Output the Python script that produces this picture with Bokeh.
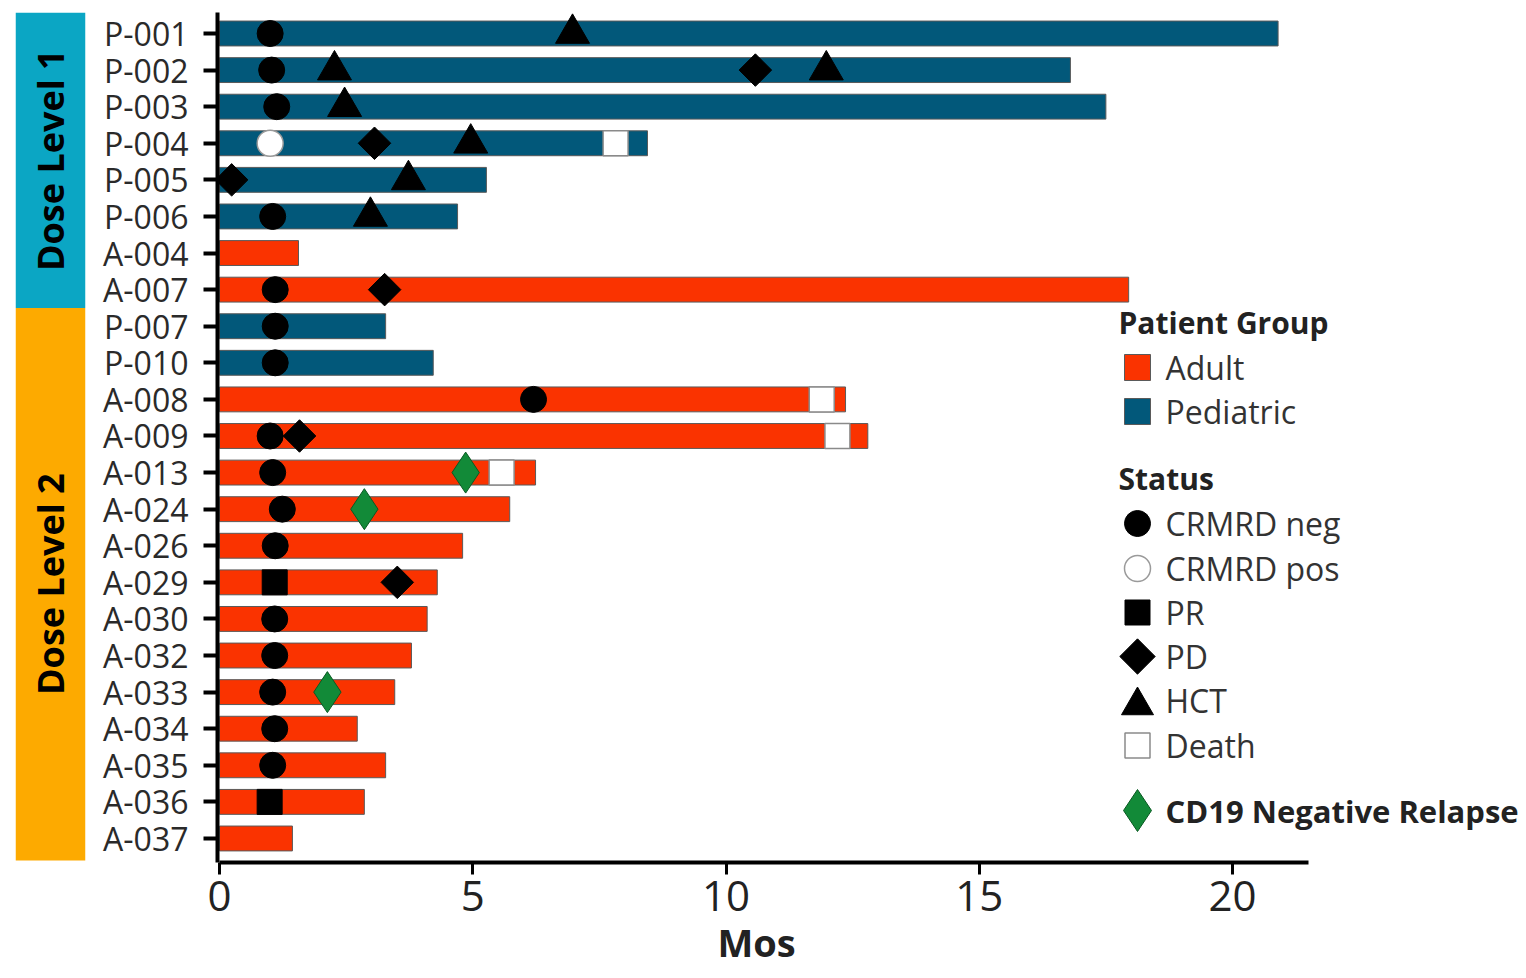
import numpy as np
from bokeh.plotting import figure
from bokeh.models import Range1d, FixedTicker, ColumnDataSource, Title
from bokeh.layouts import row
from bokeh.embed import file_html
from bokeh.resources import INLINE
from bokeh.core.properties import value

# ---------------- data ----------------
patients = ["P-001", "P-002", "P-003", "P-004", "P-005", "P-006", "A-004", "A-007",
            "P-007", "P-010", "A-008", "A-009", "A-013", "A-024", "A-026", "A-029",
            "A-030", "A-032", "A-033", "A-034", "A-035", "A-036", "A-037"]
group = ["Pediatric"] * 6 + ["Adult"] * 2 + ["Pediatric"] * 2 + ["Adult"] * 13
dose_level = [1] * 8 + [2] * 15
duration = [20.9, 16.8, 17.5, 8.45, 5.27, 4.7, 1.56, 17.95, 3.28, 4.22, 12.36, 12.8,
            6.24, 5.73, 4.8, 4.3, 4.1, 3.79, 3.46, 2.72, 3.28, 2.86, 1.44]

crmrd_neg_pt = ["P-001", "P-002", "P-003", "P-006", "A-007", "P-007", "P-010", "A-008",
                "A-009", "A-013", "A-024", "A-026", "A-030", "A-032", "A-033", "A-034", "A-035"]
crmrd_neg_t = [1.0, 1.03, 1.13, 1.05, 1.1, 1.1, 1.1, 6.2, 1.0, 1.05, 1.24, 1.1, 1.09,
               1.09, 1.05, 1.09, 1.05]
crmrd_pos_pt = ["P-004"]
crmrd_pos_t = [1.0]
pr_pt = ["A-029", "A-036"]
pr_t = [1.09, 0.99]
pd_pt = ["P-002", "P-004", "P-005", "A-007", "A-009", "A-029"]
pd_t = [10.58, 3.06, 0.24, 3.26, 1.58, 3.51]
hct_pt = ["P-001", "P-002", "P-002", "P-003", "P-004", "P-005", "P-006"]
hct_t = [6.97, 2.27, 11.98, 2.47, 4.96, 3.73, 2.98]
death_pt = ["P-004", "A-008", "A-009", "A-013"]
death_t = [7.82, 11.89, 12.2, 5.57]
cd19_pt = ["A-013", "A-024", "A-033"]
cd19_t = [4.86, 2.86, 2.13]

x_ticks = [0, 5, 10, 15, 20]
x_max = 21.5
x_label = "Mos"
dose_labels = ["Dose Level 1", "Dose Level 2"]
group_labels = ["Adult", "Pediatric"]
status_labels = ["CRMRD neg", "CRMRD pos", "PR", "PD", "HCT", "Death"]
cd19_label = "CD19 Negative Relapse"

# ---------------- style ----------------
FONT = "Open Sans"
ADULT = "#FA3300"
PED = "#02587A"
CYAN = "#0BA6C4"
ORANGE = "#FDAA00"
GREEN = "#128A38"
colors = {"Adult": ADULT, "Pediatric": PED}
idx = {p: i for i, p in enumerate(patients)}

PX_PER_MO = 50.65
ROW_PX = 36.59
FRAME_W = 1307
FRAME_H = 850
FIG_H = 970
x0 = -2 / PX_PER_MO
x1 = x0 + FRAME_W / PX_PER_MO
ytop = -21 / ROW_PX
ybot = ytop + FRAME_H / ROW_PX
yr = Range1d(start=ybot, end=ytop)

p = figure(width=FRAME_W + 119, height=FIG_H, x_range=Range1d(x0, x1), y_range=yr,
           output_backend="svg", toolbar_location=None,
           min_border_left=119, min_border_right=0, min_border_top=12,
           min_border_bottom=FIG_H - 12 - FRAME_H)
p.outline_line_color = None
p.xgrid.visible = False
p.ygrid.visible = False
p.background_fill_color = "white"
p.border_fill_color = "white"

src = ColumnDataSource(dict(y=list(range(len(patients))), dur=duration,
                            color=[colors[g] for g in group]))
p.hbar(y="y", left=0, right="dur", height=0.68, fill_color="color",
       line_color="#5a5a5a", line_width=1, source=src)


def ys(pts):
    return [idx[q] for q in pts]


p.scatter(crmrd_neg_t, ys(crmrd_neg_pt), marker="circle", size=26,
          fill_color="black", line_color="black")
p.scatter(crmrd_pos_t, ys(crmrd_pos_pt), marker="circle", size=26,
          fill_color="white", line_color="#9a9a9a", line_width=1.5)
p.scatter(pr_t, ys(pr_pt), marker="square", size=25,
          fill_color="black", line_color="black")
p.scatter(pd_t, ys(pd_pt), marker="square", size=23, angle=np.pi / 4,
          fill_color="black", line_color="black")
p.scatter(hct_t, ys(hct_pt), marker="triangle", size=34,
          fill_color="black", line_color="black")
p.scatter(death_t, ys(death_pt), marker="square", size=25,
          fill_color="white", line_color="#8a8a8a", line_width=1.5)
p.scatter(cd19_t, ys(cd19_pt), marker="diamond", size=41,
          fill_color=GREEN, line_color="#0a5a22", line_width=1)

# axes
p.xaxis.ticker = FixedTicker(ticks=x_ticks)
p.xaxis.bounds = (0, x_max)
p.xaxis.axis_line_width = 4
p.xaxis.axis_line_color = "black"
p.xaxis.major_tick_line_width = 3
p.xaxis.major_tick_line_color = "black"
p.xaxis.major_tick_out = 12
p.xaxis.major_tick_in = 0
p.xaxis.minor_tick_line_color = None
p.xaxis.major_label_text_font = FONT
p.xaxis.major_label_text_font_size = "42px"
p.xaxis.major_label_text_color = "#222222"
p.xaxis.major_label_standoff = 6

p.yaxis.ticker = FixedTicker(ticks=list(range(len(patients))))
p.yaxis.major_label_overrides = {i: name for i, name in enumerate(patients)}
p.yaxis.axis_line_width = 4
p.yaxis.axis_line_color = "black"
p.yaxis.major_tick_line_width = 4
p.yaxis.major_tick_line_color = "black"
p.yaxis.major_tick_out = 14
p.yaxis.major_tick_in = 0
p.yaxis.minor_tick_line_color = None
p.yaxis.major_label_text_font = FONT
p.yaxis.major_label_text_font_size = "32px"
p.yaxis.major_label_text_color = "#2a2a2a"
p.yaxis.major_label_standoff = 15

# axis title below the axis, centred under the drawn axis extent
p.add_layout(Title(text=x_label, align="left", offset=500, standoff=0,
                   text_font=FONT, text_font_size="38px", text_font_style="bold",
                   text_color="#222222"), "below")

# ---------------- legend (screen-like extra ranges) ----------------
p.extra_x_ranges = {"px": Range1d(0, FRAME_W)}
p.extra_y_ranges = {"py": Range1d(FRAME_H, 0)}
LM = 920   # marker x
LT = 948   # text x
LH = 901   # heading x
kw = dict(x_range_name="px", y_range_name="py")

p.text(x=[LH, LH], y=[310, 466], text=["Patient Group", "Status"],
       text_font=value(FONT), text_font_size="30px", text_font_style="bold",
       text_color="#222222", text_baseline="middle", text_align="left", **kw)
p.scatter([LM, LM], [355, 399], marker="square", size=26,
          fill_color=[ADULT, PED], line_color="#5a5a5a", line_width=1, **kw)
p.text(x=[LT, LT], y=[355, 399], text=group_labels,
       text_font=value(FONT), text_font_size="32px", text_color="#333333",
       text_baseline="middle", text_align="left", **kw)

sy = [511, 556, 600, 644, 688, 733]
p.scatter([LM], [sy[0]], marker="circle", size=26, fill_color="black", line_color="black", **kw)
p.scatter([LM], [sy[1]], marker="circle", size=26, fill_color="white",
          line_color="#9a9a9a", line_width=1.5, **kw)
p.scatter([LM], [sy[2]], marker="square", size=25, fill_color="black", line_color="black", **kw)
p.scatter([LM], [sy[3]], marker="square", size=25, angle=np.pi / 4,
          fill_color="black", line_color="black", **kw)
p.scatter([LM], [sy[4] + 5], marker="triangle", size=32, fill_color="black", line_color="black", **kw)
p.scatter([LM], [sy[5]], marker="square", size=25, fill_color="white",
          line_color="#8a8a8a", line_width=1.5, **kw)
p.text(x=[LT] * len(status_labels), y=sy, text=status_labels,
       text_font=value(FONT), text_font_size="32px", text_color="#333333",
       text_baseline="middle", text_align="left", **kw)

p.scatter([LM], [798], marker="diamond", size=42, fill_color=GREEN,
          line_color="#0a5a22", line_width=1, **kw)
p.text(x=[LT], y=[798], text=[cd19_label], text_font=value(FONT), text_font_size="31px",
       text_font_style="bold", text_color="#222222", text_baseline="middle",
       text_align="left", **kw)

# ---------------- dose-level bands ----------------
band_top = [ytop + 0.0, 7.5]
band_bottom = [7.5, 22.6]
b = figure(width=98, height=FIG_H, x_range=Range1d(0, 1), y_range=yr,
           output_backend="svg", toolbar_location=None,
           x_axis_location=None, y_axis_location=None,
           min_border_left=15, min_border_right=13, min_border_top=12,
           min_border_bottom=FIG_H - 12 - FRAME_H)
b.outline_line_color = None
b.xgrid.visible = False
b.ygrid.visible = False
b.quad(left=0, right=1, top=band_top, bottom=band_bottom,
       fill_color=[CYAN, ORANGE], line_color=None)
b.text(x=[0.5, 0.5], y=[(t + bt) / 2 for t, bt in zip(band_top, band_bottom)],
       text=dose_labels, angle=np.pi / 2, text_align="center", text_baseline="middle",
       text_font=value(FONT), text_font_size="36px", text_font_style="bold",
       text_color="black")

layout = row(b, p)
open("out.html", "w").write(file_html(layout, INLINE))
